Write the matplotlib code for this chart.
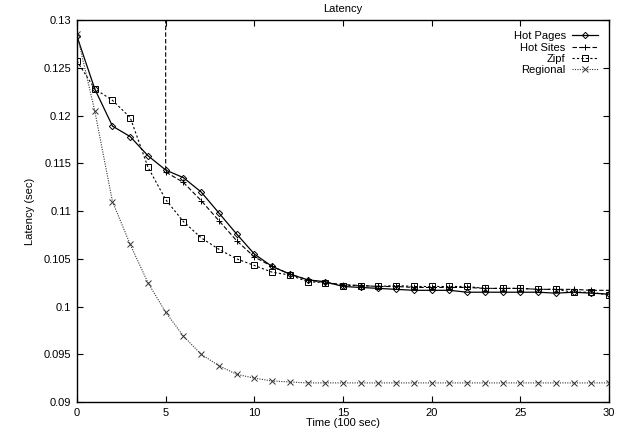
import matplotlib.pyplot as plt
import numpy as np

plt.rcParams['font.family'] = ['Liberation Sans', 'DejaVu Sans']
plt.rcParams['font.size'] = 8

# tempo em unidades de 100 s
t = list(range(31))

hot_pages = [0.1283, 0.1228, 0.1189, 0.1178, 0.1158, 0.1143, 0.1135, 0.1120, 0.1098, 0.1076,
             0.1055, 0.1042, 0.1034, 0.1028, 0.1026, 0.1021, 0.1020, 0.1019, 0.1018, 0.1017,
             0.1017, 0.1017, 0.1015, 0.1015, 0.1015, 0.1015, 0.1015, 0.1014, 0.1015, 0.1014, 0.1013]

# Hot Sites comeca em t=5 com um valor fora da escala (linha vertical)
hot_sites_t = [5] + list(range(5, 31))
hot_sites = [0.135, 0.1141, 0.1130, 0.1111, 0.1090, 0.1069, 0.1052, 0.1042, 0.1034, 0.1028,
             0.1025, 0.1023, 0.1022, 0.1021, 0.1021, 0.1020, 0.1020, 0.1020, 0.1020, 0.1019,
             0.1019, 0.1019, 0.1018, 0.1018, 0.1018, 0.1017, 0.1017]

zipf = [0.1257, 0.1228, 0.1216, 0.1198, 0.1146, 0.1112, 0.1089, 0.1072, 0.1060, 0.1050,
        0.1043, 0.1036, 0.1033, 0.1026, 0.1025, 0.1022, 0.1022, 0.1021, 0.1022, 0.1021,
        0.1021, 0.1021, 0.1021, 0.1019, 0.1019, 0.1019, 0.1018, 0.1018, 0.1015, 0.1015, 0.1012]

regional = [0.1285, 0.1205, 0.1110, 0.1065, 0.1025, 0.0994, 0.0969, 0.0950, 0.0938, 0.0929,
            0.0925, 0.0922, 0.0921, 0.0920, 0.0920, 0.0920, 0.0920, 0.0920, 0.0920, 0.0920,
            0.0920, 0.0920, 0.0920, 0.0920, 0.0920, 0.0920, 0.0920, 0.0920, 0.0920, 0.0920, 0.0920]

yticks = [0.09, 0.095, 0.1, 0.105, 0.11, 0.115, 0.12, 0.125, 0.13]
ylabels = ['0.09', '0.095', '0.1', '0.105', '0.11', '0.115', '0.12', '0.125', '0.13']

fig = plt.figure(figsize=(6.23, 4.38), dpi=100)
ax = fig.add_axes([0.1236, 0.0822, 0.854, 0.8718])

ax.plot(t, hot_pages, color='black', lw=0.9, ls='-', marker='D', ms=3.2,
        mfc='none', mew=0.7, label='Hot Pages')
ax.plot(hot_sites_t, hot_sites, color='black', lw=0.8, ls=(0, (4, 2)), marker='+', ms=4.5,
        mew=0.7, label='Hot Sites')
ax.plot(t, zipf, color='black', lw=0.8, ls=(0, (2, 2)), marker='s', ms=4,
        mfc='none', mew=0.7, label='Zipf')
ax.plot(t, regional, color='#333333', lw=0.8, ls=(0, (1, 1.2)), marker='x', ms=4,
        mew=0.7, label='Regional')

ax.set_xlim(0, 30)
ax.set_ylim(0.09, 0.13)
ax.set_xticks([0, 5, 10, 15, 20, 25, 30])
ax.set_yticks(yticks)
ax.set_yticklabels(ylabels)
ax.tick_params(direction='in', top=True, right=True, length=4, width=0.8, pad=4)
for s in ax.spines.values():
    s.set_linewidth(1.0)

ax.set_title('Latency', fontsize=8, pad=6)
ax.set_xlabel('Time (100 sec)', labelpad=0)
ax.set_ylabel('Latency (sec)', labelpad=6)

ax.legend(loc='upper right', frameon=False, markerfirst=False, handlelength=2.3,
          handletextpad=0.6, labelspacing=0.12, borderaxespad=0.6, fontsize=8)

fig.savefig('out.png', dpi=100)
